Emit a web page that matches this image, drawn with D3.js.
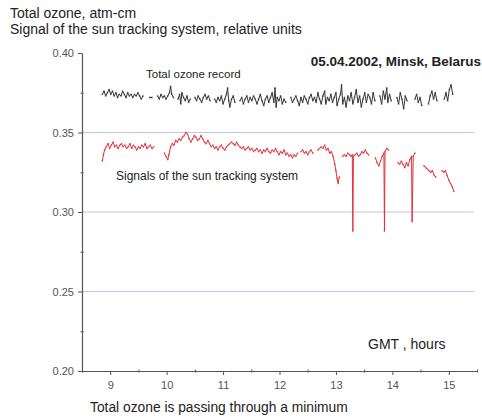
<!DOCTYPE html>
<html>
<head>
<meta charset="utf-8">
<script src="https://cdn.jsdelivr.net/npm/d3@7"></script>
<style>
  body { margin: 0; background: #fff; }
  svg { display: block; font-family: "Liberation Sans", Arial, sans-serif; }
</style>
</head>
<body>
<div id="chart"></div>
<script>
// total ozone record, [GMT hours, atm-cm], null = gap in record
var ozoneRecord = [
  [8.86,0.374],[8.89,0.376],[8.92,0.373],[8.95,0.375],[8.98,0.377],[9.01,0.374],[9.04,0.376],[9.07,0.373],
  [9.10,0.375],[9.13,0.372],[9.16,0.374],[9.19,0.373],[9.22,0.376],[9.25,0.374],[9.28,0.372],[9.31,0.375],
  [9.34,0.373],[9.37,0.374],[9.40,0.372],[9.43,0.374],[9.46,0.373],[9.49,0.375],[9.52,0.373],[9.55,0.371],
  [9.58,0.373], null,
  [9.70,0.372],[9.74,0.372], null,
  [9.84,0.373],[9.87,0.371],[9.90,0.374],[9.93,0.372],[9.96,0.373],[9.99,0.371],[10.02,0.373],[10.05,0.375],
  [10.07,0.379],[10.09,0.374],[10.12,0.372], null,
  [10.20,0.371],[10.23,0.374],[10.25,0.368],[10.27,0.375],[10.30,0.372],[10.33,0.370],[10.36,0.373],[10.39,0.369],
  [10.42,0.371], null,
  [10.50,0.372],[10.53,0.370],[10.56,0.373],[10.59,0.371],[10.62,0.369],[10.65,0.372],[10.68,0.374],[10.71,0.371],
  [10.74,0.373],[10.77,0.370], null,
  [10.85,0.371],[10.88,0.369],[10.91,0.372],[10.94,0.370],[10.97,0.373],[11.00,0.368],[11.03,0.371],[11.06,0.374],
  [11.08,0.378],[11.10,0.370],[11.12,0.366],[11.15,0.371],[11.18,0.373],[11.21,0.369], null,
  [11.30,0.370],[11.33,0.372],[11.36,0.368],[11.39,0.371],[11.42,0.373],[11.45,0.369],[11.48,0.372],[11.51,0.370],
  [11.54,0.373],[11.57,0.371],[11.60,0.368],[11.63,0.371],[11.66,0.374],[11.69,0.370],[11.72,0.367],[11.75,0.371],
  [11.78,0.373],[11.81,0.369],[11.84,0.372],[11.87,0.375],[11.90,0.369],[11.92,0.378],[11.94,0.366],[11.96,0.372],
  [11.99,0.370],[12.02,0.373],[12.05,0.368],[12.08,0.371],[12.11,0.369], null,
  [12.20,0.372],[12.23,0.369],[12.26,0.371],[12.29,0.373],[12.32,0.370],[12.35,0.367],[12.38,0.372],[12.41,0.369],
  [12.44,0.373],[12.47,0.371],[12.50,0.368],[12.53,0.372],[12.56,0.374],[12.59,0.370],[12.62,0.372],[12.65,0.369],
  [12.68,0.375],[12.71,0.371],[12.74,0.368],[12.77,0.373],[12.80,0.376],[12.82,0.368],[12.85,0.372],[12.88,0.370],
  [12.91,0.374],[12.94,0.369],[12.97,0.372],[13.00,0.375],[13.02,0.367],[13.05,0.371],[13.08,0.374],[13.10,0.380],
  [13.12,0.368],[13.15,0.372],[13.18,0.366],[13.21,0.373],[13.24,0.370],[13.27,0.375],[13.30,0.368],[13.33,0.372],
  [13.36,0.377],[13.39,0.369],[13.42,0.373],[13.45,0.366],[13.48,0.371],[13.51,0.375],[13.54,0.369],[13.57,0.374],
  [13.60,0.372],[13.63,0.368],[13.66,0.375],[13.69,0.370], null,
  [13.78,0.373],[13.81,0.368],[13.84,0.376],[13.87,0.371],[13.90,0.378],[13.92,0.369],[13.95,0.374],[13.98,0.370], null,
  [14.08,0.372],[14.11,0.368],[14.14,0.375],[14.17,0.371],[14.20,0.365],[14.23,0.373],[14.26,0.370], null,
  [14.40,0.371],[14.43,0.374],[14.46,0.369],[14.49,0.372],[14.52,0.367], null,
  [14.64,0.368],[14.67,0.373],[14.70,0.376],[14.73,0.371],[14.76,0.375],[14.79,0.370], null,
  [14.92,0.371],[14.95,0.375],[14.98,0.370],[15.01,0.377],[15.04,0.380],[15.07,0.374]
];

// signal of the sun tracking system, [GMT hours, relative units]
var trackerSignal = [
  [8.86,0.332],[8.88,0.336],[8.90,0.339],[8.93,0.341],[8.96,0.343],[8.99,0.340],[9.02,0.342],[9.05,0.344],
  [9.08,0.341],[9.11,0.342],[9.14,0.340],[9.17,0.342],[9.20,0.343],[9.23,0.341],[9.26,0.342],[9.29,0.340],
  [9.32,0.341],[9.35,0.343],[9.38,0.340],[9.41,0.342],[9.44,0.341],[9.47,0.339],[9.50,0.341],[9.53,0.340],
  [9.56,0.342],[9.59,0.341],[9.62,0.343],[9.65,0.340],[9.68,0.341],[9.71,0.342],[9.74,0.340],[9.77,0.341], null,
  [9.96,0.337],[9.99,0.335],[10.02,0.333],[10.04,0.336],[10.07,0.341],[10.10,0.343],[10.13,0.342],[10.16,0.345],
  [10.19,0.344],[10.22,0.346],[10.25,0.345],[10.28,0.347],[10.31,0.348],[10.34,0.350],[10.37,0.349],[10.40,0.346],
  [10.43,0.344],[10.46,0.346],[10.49,0.348],[10.52,0.347],[10.55,0.345],[10.58,0.346],[10.61,0.348],[10.64,0.346],
  [10.67,0.344],[10.70,0.343],[10.73,0.345],[10.76,0.343],[10.79,0.341],[10.82,0.342],[10.85,0.340],[10.88,0.341],
  [10.91,0.339],[10.94,0.341],[10.97,0.342],[11.00,0.340],[11.03,0.339],[11.06,0.341],[11.09,0.342],[11.12,0.343],
  [11.15,0.344],[11.18,0.343],[11.21,0.342],[11.24,0.344],[11.27,0.342],[11.30,0.341],[11.33,0.340],[11.36,0.341],
  [11.39,0.339],[11.42,0.340],[11.45,0.341],[11.48,0.339],[11.51,0.340],[11.54,0.338],[11.57,0.339],[11.60,0.340],
  [11.63,0.338],[11.66,0.339],[11.69,0.337],[11.72,0.339],[11.75,0.338],[11.78,0.340],[11.81,0.338],[11.84,0.337],
  [11.87,0.339],[11.90,0.338],[11.93,0.340],[11.96,0.338],[11.99,0.336],[12.02,0.338],[12.05,0.337],[12.08,0.339],
  [12.11,0.336],[12.14,0.337],[12.17,0.335],[12.20,0.336],[12.23,0.334],[12.26,0.336],[12.29,0.335],[12.32,0.337], null,
  [12.38,0.338],[12.41,0.339],[12.44,0.337],[12.47,0.338],[12.50,0.336],[12.53,0.338],[12.56,0.339],[12.59,0.337], null,
  [12.68,0.339],[12.71,0.340],[12.74,0.341],[12.77,0.340],[12.80,0.342],[12.83,0.339],[12.86,0.340],[12.89,0.337],
  [12.92,0.338],[12.95,0.335],[12.98,0.330],[13.00,0.326],[13.02,0.321],[13.04,0.318],[13.06,0.322], null,
  [13.12,0.335],[13.15,0.336],[13.18,0.335],[13.21,0.337],[13.24,0.336],[13.27,0.335],[13.29,0.336],[13.30,0.288],
  [13.31,0.335],[13.34,0.336],[13.37,0.337],[13.40,0.335],[13.43,0.336],[13.46,0.338],[13.49,0.337],[13.52,0.339],
  [13.55,0.337],[13.58,0.336], null,
  [13.70,0.334],[13.73,0.331],[13.76,0.329],[13.79,0.332],[13.82,0.335],[13.85,0.337],[13.86,0.288],[13.87,0.338],
  [13.90,0.340],[13.93,0.339], null,
  [14.10,0.331],[14.13,0.330],[14.16,0.332],[14.19,0.330],[14.22,0.328],[14.25,0.331],[14.28,0.329],[14.31,0.333],
  [14.34,0.335],[14.35,0.294],[14.37,0.335],[14.40,0.337], null,
  [14.56,0.329],[14.59,0.328],[14.62,0.327],[14.65,0.326],[14.68,0.325],[14.71,0.326],[14.74,0.323],[14.77,0.322], null,
  [14.88,0.326],[14.91,0.325],[14.94,0.326],[14.97,0.323],[15.00,0.320],[15.03,0.318],[15.06,0.316],[15.09,0.313]
];

var xTicks = [9, 10, 11, 12, 13, 14, 15];
var xMinorTicks = [8.5, 9.5, 10.5, 11.5, 12.5, 13.5, 14.5, 15.5];
var yTicks = [0.20, 0.25, 0.30, 0.35, 0.40];
var yMinorTicks = [0.225, 0.275, 0.325, 0.375];
var gridLevels = [0.25, 0.30, 0.35];

var width = 482, height = 417;
var margin = {top: 53, right: 5, bottom: 46, left: 82};

var svg = d3.select("#chart").append("svg")
    .attr("width", width)
    .attr("height", height);

var x = d3.scaleLinear()
    .domain([8.5, 15.5])
    .range([margin.left, width - margin.right]);

var y = d3.scaleLinear()
    .domain([0.20, 0.40])
    .range([height - margin.bottom, margin.top]);

// light blue level lines
svg.selectAll(".grid")
    .data(gridLevels)
    .enter().append("line")
    .attr("class", "grid")
    .attr("x1", x(8.5))
    .attr("x2", x(15.45))
    .attr("y1", function(d) { return y(d); })
    .attr("y2", function(d) { return y(d); })
    .attr("stroke", "#c4c4ee")
    .attr("stroke-width", 1.2);

var line = d3.line()
    .defined(function(d) { return d !== null; })
    .x(function(d) { return x(d[0]); })
    .y(function(d) { return y(d[1]); });

function drawSeries(data, colour, cls) {
    svg.append("path")
        .datum(data)
        .attr("fill", "none")
        .attr("stroke", colour)
        .attr("stroke-width", 1)
        .attr("d", line);

    // small point markers along the record
    svg.selectAll("." + cls)
        .data(data.filter(function(d) { return d !== null; }))
        .enter().append("circle")
        .attr("class", cls)
        .attr("cx", function(d) { return x(d[0]); })
        .attr("cy", function(d) { return y(d[1]); })
        .attr("r", 0.9)
        .attr("fill", colour)
        .attr("opacity", 0.7);
}

drawSeries(trackerSignal, "#e0303a", "sig");
drawSeries(ozoneRecord, "#333", "oz");

// axes
var xAxis = svg.append("g")
    .attr("transform", "translate(0," + y(0.20) + ")")
    .call(d3.axisBottom(x).tickValues(xTicks).tickSize(4).tickSizeOuter(0).tickPadding(6).tickFormat(d3.format("d")));

var xMinor = svg.append("g")
    .attr("transform", "translate(0," + (y(0.20) - 1.5) + ")")
    .call(d3.axisBottom(x).tickValues(xMinorTicks).tickSize(3).tickSizeOuter(0).tickFormat(""));
xMinor.select(".domain").remove();

var yAxis = svg.append("g")
    .attr("transform", "translate(" + x(8.5) + ",0)")
    .call(d3.axisLeft(y).tickValues(yTicks).tickSize(4).tickSizeOuter(0).tickPadding(4).tickFormat(d3.format(".2f")));

var yMinor = svg.append("g")
    .attr("transform", "translate(" + (x(8.5) + 1.5) + ",0)")
    .call(d3.axisLeft(y).tickValues(yMinorTicks).tickSize(3).tickSizeOuter(0).tickFormat(""));
yMinor.select(".domain").remove();

svg.selectAll(".domain").attr("stroke", "#555").attr("stroke-width", 1.2);
svg.selectAll(".tick line").attr("stroke", "#555");
svg.selectAll(".tick text")
    .attr("fill", "#555")
    .style("font-size", "11px");

// titles and labels
var labels = [
  {t: "Total ozone, atm-cm", x: 10, y: 18, size: 14, anchor: "start", weight: "normal"},
  {t: "Signal of the sun tracking system, relative units", x: 10, y: 34, size: 14, anchor: "start", weight: "normal"},
  {t: "05.04.2002, Minsk, Belarus", x: 481, y: 66, size: 13.5, anchor: "end", weight: "bold"},
  {t: "Total ozone record", x: 146, y: 78, size: 11.5, anchor: "start", weight: "normal"},
  {t: "Signals of the sun tracking system", x: 116, y: 180, size: 12, anchor: "start", weight: "normal"},
  {t: "GMT , hours", x: 368, y: 349, size: 14, anchor: "start", weight: "normal"},
  {t: "Total ozone is passing through a minimum", x: 90, y: 412, size: 13.8, anchor: "start", weight: "normal"}
];

svg.selectAll(".label")
    .data(labels)
    .enter().append("text")
    .attr("class", "label")
    .attr("x", function(d) { return d.x; })
    .attr("y", function(d) { return d.y; })
    .attr("text-anchor", function(d) { return d.anchor; })
    .style("font-size", function(d) { return d.size + "px"; })
    .style("font-weight", function(d) { return d.weight; })
    .attr("fill", "#222")
    .text(function(d) { return d.t; });
</script>
</body>
</html>
